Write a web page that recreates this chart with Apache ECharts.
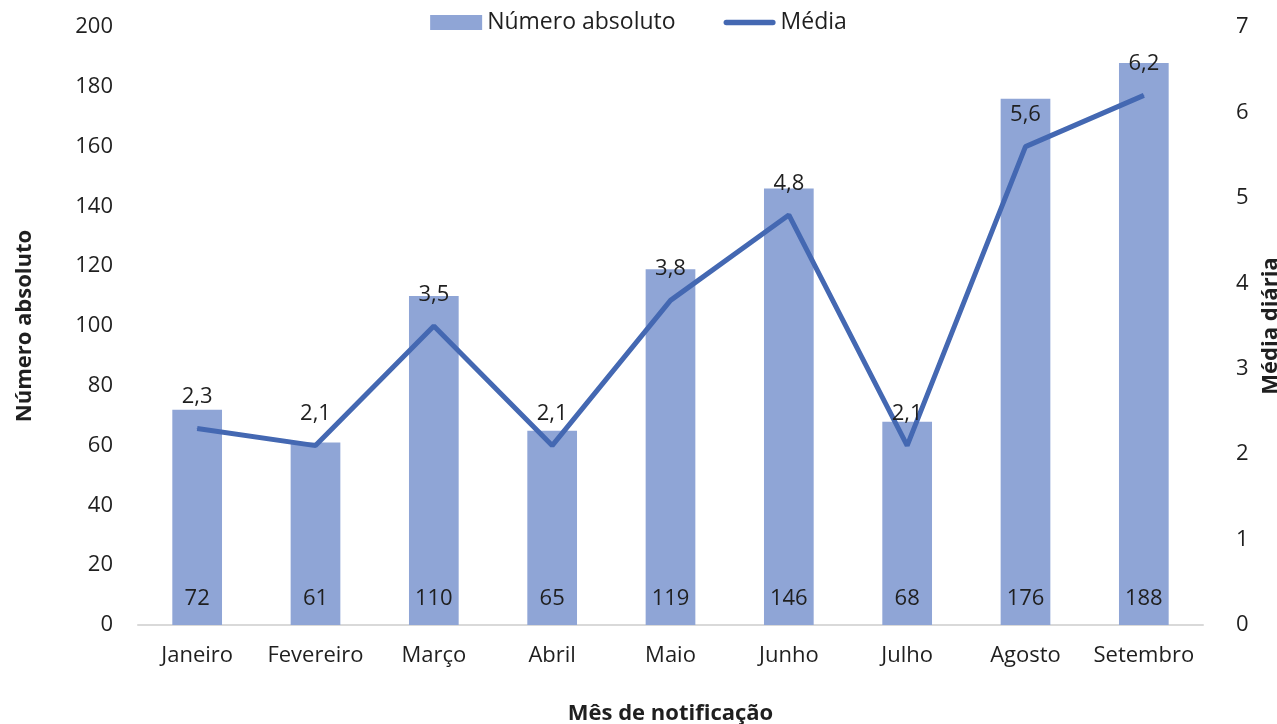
<!DOCTYPE html>
<html><head><meta charset="utf-8">
<script src="https://cdn.jsdelivr.net/npm/echarts@6/dist/echarts.min.js"></script>
<style>html,body{margin:0;padding:0;background:#fff}#c{width:1277px;height:724px}</style>
</head><body><div id="c"></div>
<script>
const categories = ['Janeiro','Fevereiro','Março','Abril','Maio','Junho','Julho','Agosto','Setembro'];
const absoluteValues = [72, 61, 110, 65, 119, 146, 68, 176, 188];
const dailyMean = [2.3, 2.1, 3.5, 2.1, 3.8, 4.8, 2.1, 5.6, 6.2];
const leftTicks = {min: 0, max: 200, interval: 20};
const rightTicks = {min: 0, max: 7, interval: 1};

const font = "'Open Sans', 'Noto Sans', sans-serif";
const txt = '#1f1f1f';
const fs = 22;
const chart = echarts.init(document.getElementById('c'), null, {renderer: 'canvas'});
chart.setOption({
  animation: false,
  textStyle: {fontFamily: font},
  legend: {
    top: 6, left: 'center', itemGap: 48, itemWidth: 52, itemHeight: 15,
    textStyle: {fontSize: 23, color: txt, fontFamily: font},
    data: [
      {name: 'Número absoluto', icon: 'rect'},
      {name: 'Média', icon: 'path://M3,0H55A3,3 0 0 1 55,6H3A3,3 0 0 1 3,0Z'}
    ]
  },
  grid: {left: 138, right: 74, top: 27, bottom: 99, outerBoundsMode: 'none', containLabel: false},
  xAxis: {
    type: 'category', data: categories,
    axisLine: {lineStyle: {color: '#d9d9d9', width: 2}},
    axisTick: {show: false},
    axisLabel: {fontSize: fs, color: txt, margin: 20, fontFamily: font, interval: 0},
    name: 'Mês de notificação', nameLocation: 'middle', nameGap: 78,
    nameTextStyle: {fontSize: fs, fontWeight: 'bold', color: txt, fontFamily: font}
  },
  yAxis: [{
    type: 'value', min: leftTicks.min, max: leftTicks.max, interval: leftTicks.interval,
    splitLine: {show: false}, axisLine: {show: false}, axisTick: {show: false},
    axisLabel: {fontSize: fs, color: txt, margin: 25, fontFamily: font},
    name: 'Número absoluto', nameLocation: 'middle', nameGap: 102, nameRotate: 90,
    nameTextStyle: {fontSize: fs, fontWeight: 'bold', color: txt, fontFamily: font}
  }, {
    type: 'value', min: rightTicks.min, max: rightTicks.max, interval: rightTicks.interval,
    splitLine: {show: false}, axisLine: {show: false}, axisTick: {show: false},
    axisLabel: {fontSize: fs, color: txt, margin: 33, fontFamily: font},
    name: 'Média diária', nameLocation: 'middle', nameGap: 52, nameRotate: 90,
    nameTextStyle: {fontSize: fs, fontWeight: 'bold', color: txt, fontFamily: font}
  }],
  series: [{
    name: 'Número absoluto', type: 'bar', data: absoluteValues, barWidth: '42%',
    itemStyle: {color: '#8FA5D6'},
    label: {show: true, position: 'insideBottom', distance: 15, fontSize: fs, color: txt, fontFamily: font}
  }, {
    name: 'Média', type: 'line', yAxisIndex: 1, data: dailyMean,
    showSymbol: true, symbol: 'circle', symbolSize: 1,
    lineStyle: {color: '#4468B2', width: 5},
    itemStyle: {color: '#4468B2'},
    label: {show: true, position: 'top', distance: 20, fontSize: fs, color: txt, fontFamily: font,
      formatter: p => String(p.value).replace('.', ',')}
  }]
});
</script></body></html>
